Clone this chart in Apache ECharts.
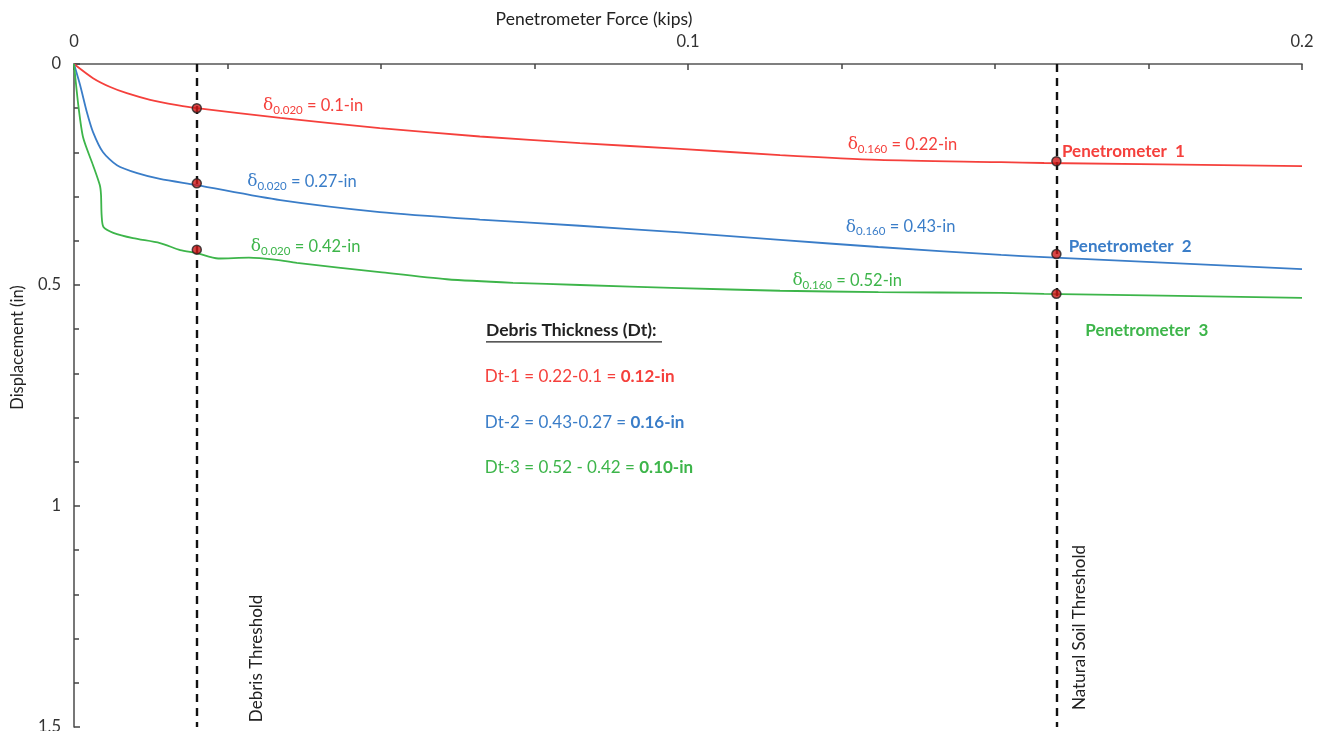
<!DOCTYPE html>
<html>
<head>
<meta charset="utf-8">
<title>Penetrometer force vs displacement</title>
<style>
html, body { margin: 0; padding: 0; background: #fff; }
#chart { width: 1330px; height: 731px; }
</style>
<script src="https://cdn.jsdelivr.net/npm/echarts@6/dist/echarts.min.js"></script>
</head>
<body>
<div id="chart"></div>
<script>
// data (force in kips, displacement in inches)
var p1Force = [0, 0.0031, 0.0059, 0.0086, 0.0124, 0.0168, 0.02, 0.0336, 0.0498, 0.0661, 0.0824, 0.0987, 0.115, 0.131, 0.151, 0.158, 0.2];
var p1Disp  = [0, 0.032, 0.052, 0.066, 0.081, 0.093, 0.100, 0.122, 0.145, 0.164, 0.179, 0.192, 0.206, 0.217, 0.222, 0.224, 0.231];

var p2Force = [0, 0.001, 0.0021, 0.0031, 0.0047, 0.007, 0.0103, 0.014, 0.02, 0.0336, 0.0498, 0.0661, 0.0824, 0.0987, 0.115, 0.131, 0.151, 0.158, 0.2];
var p2Disp  = [0, 0.048, 0.109, 0.154, 0.199, 0.229, 0.247, 0.260, 0.274, 0.308, 0.335, 0.352, 0.366, 0.381, 0.398, 0.414, 0.432, 0.437, 0.464];

var p3Force = [0, 0.0007, 0.0015, 0.0031, 0.0042, 0.0044, 0.0045, 0.0048, 0.0064, 0.0096, 0.014, 0.0173, 0.02, 0.0235, 0.0285, 0.033, 0.0363, 0.0498, 0.0607, 0.0715, 0.0824, 0.0987, 0.115, 0.131, 0.151, 0.158, 0.2];
var p3Disp  = [0, 0.093, 0.167, 0.229, 0.274, 0.296, 0.342, 0.369, 0.382, 0.394, 0.405, 0.421, 0.428, 0.440, 0.438, 0.443, 0.450, 0.471, 0.487, 0.495, 0.500, 0.507, 0.513, 0.516, 0.518, 0.520, 0.529];

var thresholdForce = [0.02, 0.16];
var thresholdNames = ['Debris Threshold', 'Natural Soil Threshold'];
var pointDisp1 = [0.10, 0.22];
var pointDisp2 = [0.27, 0.43];
var pointDisp3 = [0.42, 0.52];

var xTicks = [0, 0.1, 0.2];
var yTicks = [0, 0.5, 1, 1.5];

var RED = '#F5403C', BLUE = '#3A7DC8', GREEN = '#3DB54A';
var FONT = 'Lato';

function pairs(xs, ys) {
	return xs.map(function(x, i) { return [x, ys[i]]; });
}

var chart = echarts.init(document.getElementById('chart'), null, { renderer: 'canvas' });

// rich text for the delta annotations
var deltaRich = function(color) {
	return {
		d: { fontFamily: 'DejaVu Serif', fontSize: 17, color: color },
		s: { fontFamily: FONT, fontSize: 11.5, color: color, padding: [9, 0, 0, 0] },
		t: { fontFamily: FONT, fontSize: 16.5, color: color }
	};
};

function note(coord, text, rich, extra) {
	var item = {
		coord: coord,
		symbolSize: 0,
		label: Object.assign({
			show: true,
			position: [0, 0],
			align: 'left',
			verticalAlign: 'middle',
			formatter: text,
			rich: rich
		}, extra || {})
	};
	return item;
}

function deltaNote(coord, sub, val, color) {
	return note(coord, '{d|δ}{s|' + sub + '}{t| = ' + val + '}', deltaRich(color));
}

var dtRich = function(color) {
	return {
		a: { fontFamily: FONT, fontSize: 17, color: color },
		b: { fontFamily: FONT, fontSize: 17, color: color, fontWeight: 'bold' }
	};
};

var penRich = function(color) {
	return { b: { fontFamily: FONT, fontSize: 17, fontWeight: 'bold', color: color } };
};

var notes = [
	deltaNote([0.0308, 0.095], '0.020', '0.1-in', RED),
	deltaNote([0.126, 0.183], '0.160', '0.22-in', RED),
	deltaNote([0.0282, 0.267], '0.020', '0.27-in', BLUE),
	deltaNote([0.1257, 0.369], '0.160', '0.43-in', BLUE),
	deltaNote([0.0288, 0.414], '0.020', '0.42-in', GREEN),
	deltaNote([0.117, 0.491], '0.160', '0.52-in', GREEN),
	note([0.1609, 0.199], '{b|Penetrometer  1}', penRich(RED)),
	note([0.162, 0.414], '{b|Penetrometer  2}', penRich(BLUE)),
	note([0.1647, 0.604], '{b|Penetrometer  3}', penRich(GREEN)),
	note([0.0671, 0.606], '{h|Debris Thickness (Dt):}\n{u|}', {
		h: { fontFamily: FONT, fontSize: 17.5, fontWeight: 'bold', color: '#222', lineHeight: 20 },
		u: { width: 176, height: 1.4, lineHeight: 2, backgroundColor: '#222' }
	}),
	note([0.0669, 0.706], '{a|Dt-1 = 0.22-0.1 = }{b|0.12-in}', dtRich(RED)),
	note([0.0669, 0.812], '{a|Dt-2 = 0.43-0.27 = }{b|0.16-in}', dtRich(BLUE)),
	note([0.0669, 0.914], '{a|Dt-3 = 0.52 - 0.42 = }{b|0.10-in}', dtRich(GREEN)),
	note([0.0298, 1.489], thresholdNames[0], null, { rotate: 90, fontFamily: FONT, fontSize: 17, color: '#222' }),
	note([0.1638, 1.4615], thresholdNames[1], null, { rotate: 90, fontFamily: FONT, fontSize: 17, color: '#222' })
];

function lineSeries(name, data, color) {
	return {
		name: name,
		type: 'line',
		data: data,
		smooth: 0.25,
		showSymbol: false,
		lineStyle: { color: color, width: 1.8 },
		z: 3
	};
}

var dots = [];
[pointDisp1, pointDisp2, pointDisp3].forEach(function(arr) {
	arr.forEach(function(v, i) { dots.push([thresholdForce[i], v]); });
});

var option = {
	animation: false,
	backgroundColor: '#fff',
	grid: { left: 74, right: 28, top: 64, bottom: 4, containLabel: false, outerBoundsMode: 'none' },
	xAxis: {
		type: 'value',
		position: 'top',
		min: 0,
		max: 0.2,
		interval: 0.1,
		name: 'Penetrometer Force (kips)',
		nameLocation: 'middle',
		nameGap: 36,
		nameTextStyle: { fontFamily: FONT, fontSize: 17.5, color: '#222', padding: [0, 188, 0, 0] },
		axisLine: { show: true, lineStyle: { color: '#555', width: 1.6 } },
		axisTick: { show: true, inside: true, length: 6, lineStyle: { color: '#444', width: 1.5 } },
		minorTick: { show: true, splitNumber: 4, length: 5, lineStyle: { color: '#444', width: 1.5 } },
		splitLine: { show: false },
		axisLabel: {
			fontFamily: FONT, fontSize: 16.5, color: '#333', margin: 14,
			formatter: function(v) { return xTicks.indexOf(v) > -1 ? String(v) : ''; }
		}
	},
	yAxis: {
		type: 'value',
		inverse: true,
		min: 0,
		max: 1.5,
		interval: 0.5,
		name: 'Displacement (in)',
		nameLocation: 'middle',
		nameGap: 48,
		nameTextStyle: { fontFamily: FONT, fontSize: 16.5, color: '#222', padding: [0, 0, 0, 96] },
		axisLine: { show: true, lineStyle: { color: '#555', width: 1.6 } },
		axisTick: { show: true, inside: true, length: 6, lineStyle: { color: '#444', width: 1.5 } },
		minorTick: { show: true, splitNumber: 5, length: 5, lineStyle: { color: '#444', width: 1.5 } },
		splitLine: { show: false },
		axisLabel: {
			fontFamily: FONT, fontSize: 16.5, color: '#333', margin: 13,
			formatter: function(v) { return yTicks.indexOf(v) > -1 ? String(v) : ''; }
		}
	},
	series: [
		lineSeries('Penetrometer 1', pairs(p1Force, p1Disp), RED),
		lineSeries('Penetrometer 2', pairs(p2Force, p2Disp), BLUE),
		lineSeries('Penetrometer 3', pairs(p3Force, p3Disp), GREEN),
		{
			// thresholds and annotations
			type: 'scatter',
			data: [],
			silent: true,
			markLine: {
				silent: true,
				symbol: ['none', 'none'],
				label: { show: false },
				lineStyle: { color: '#111', width: 2.4, type: [8, 6] },
				data: thresholdForce.map(function(f) { return { xAxis: f }; })
			},
			markPoint: {
				silent: true,
				data: notes
			}
		},
		{
			type: 'scatter',
			data: dots,
			symbolSize: 9,
			itemStyle: { color: '#D01818', borderColor: '#222', borderWidth: 1.5 },
			z: 5
		}
	]
};

chart.setOption(option);
</script>
</body>
</html>
